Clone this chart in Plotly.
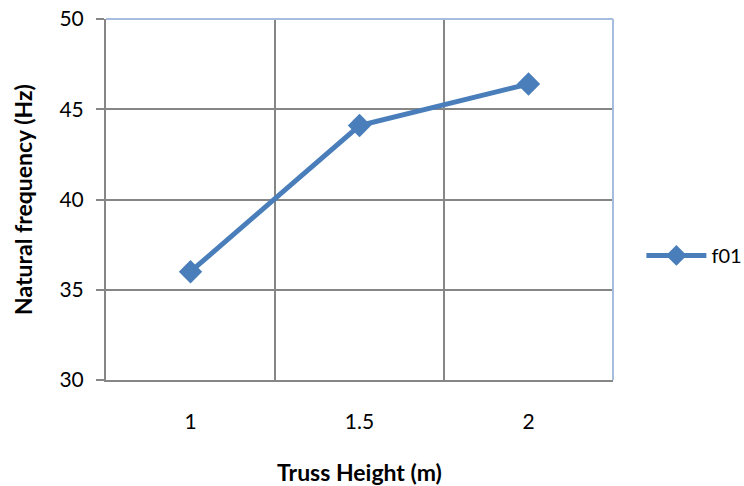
import plotly.graph_objects as go

# Truss height categories and first natural frequency
truss_height = ["1", "1.5", "2"]
f01 = [36.0, 44.1, 46.4]

y_ticks = [30, 35, 40, 45, 50]

line_blue = "#4a7ebb"
grid_gray = "#868686"
frame_blue = "#a7bde0"
font_family = "Lato, 'Open Sans', sans-serif"

fig = go.Figure()
fig.add_trace(go.Scatter(
    x=truss_height,
    y=f01,
    name="f01",
    mode="lines+markers",
    line=dict(color=line_blue, width=5),
    marker=dict(symbol="diamond", size=18, color=line_blue),
))

# light-blue frame on top and right of the plot area
fig.add_shape(type="line", xref="paper", yref="paper", x0=0, x1=1, y0=1, y1=1,
              line=dict(color=frame_blue, width=2))
fig.add_shape(type="line", xref="paper", yref="paper", x0=1, x1=1, y0=0, y1=1,
              line=dict(color=frame_blue, width=2))

fig.update_layout(
    width=744,
    height=486,
    margin=dict(l=106, r=131, t=19, b=106, autoexpand=False),
    paper_bgcolor="white",
    plot_bgcolor="white",
    font=dict(family=font_family, size=21, color="#000000"),
    showlegend=True,
    legend=dict(
        x=1.056, y=0.345, xanchor="left", yanchor="middle",
        font=dict(size=20), itemwidth=60,
        bgcolor="rgba(0,0,0,0)",
    ),
    xaxis=dict(
        type="category",
        tickson="boundaries",
        automargin=False,
        showgrid=True,
        gridcolor=grid_gray,
        gridwidth=2,
        showline=True,
        linecolor=grid_gray,
        linewidth=2,
        ticks="",
        tickfont=dict(size=21),
        ticklabelstandoff=22,
        title=dict(text="<b>Truss Height (m)</b>", font=dict(size=23), standoff=33),
        range=[-0.5, 2.5],
        zeroline=False,
    ),
    yaxis=dict(
        range=[30, 50],
        tickvals=y_ticks,
        automargin=False,
        showgrid=True,
        gridcolor=grid_gray,
        gridwidth=2,
        showline=True,
        linecolor=grid_gray,
        linewidth=2,
        ticks="outside",
        ticklen=8,
        tickwidth=2,
        tickcolor=grid_gray,
        tickfont=dict(size=21),
        ticklabelstandoff=8,
        title=dict(text="<b>Natural frequency (Hz)</b>", font=dict(size=23), standoff=20),
        zeroline=False,
    ),
)

fig.write_html("out.html")
